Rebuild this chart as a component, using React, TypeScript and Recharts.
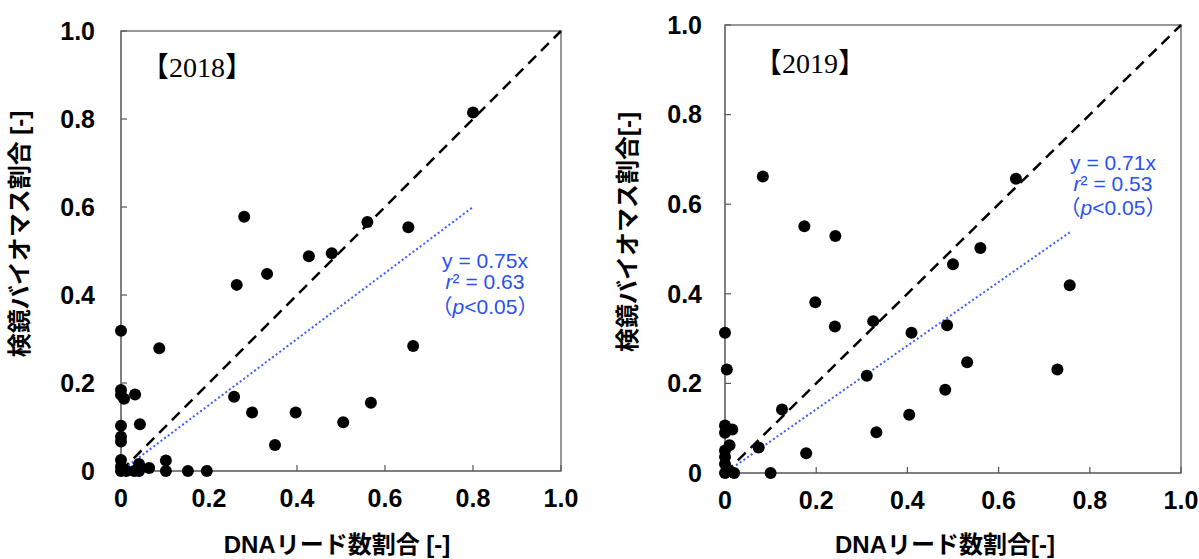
import React from 'react';
import { ScatterChart, Scatter, XAxis, YAxis, ReferenceLine, ReferenceArea } from 'recharts';

const axisTicks = [0, 0.2, 0.4, 0.6, 0.8, 1.0];

const points2018 = [
  { x: 0.8, y: 0.815 }, { x: 0.28, y: 0.578 }, { x: 0.56, y: 0.566 }, { x: 0.653, y: 0.554 },
  { x: 0.427, y: 0.488 }, { x: 0.479, y: 0.495 }, { x: 0.332, y: 0.448 }, { x: 0.263, y: 0.423 },
  { x: 0, y: 0.319 }, { x: 0.087, y: 0.279 }, { x: 0.664, y: 0.284 }, { x: 0, y: 0.184 },
  { x: 0, y: 0.173 }, { x: 0.007, y: 0.164 }, { x: 0.032, y: 0.174 }, { x: 0, y: 0.103 },
  { x: 0.043, y: 0.106 }, { x: 0, y: 0.078 }, { x: 0, y: 0.067 }, { x: 0.257, y: 0.169 },
  { x: 0.298, y: 0.133 }, { x: 0.397, y: 0.133 }, { x: 0.35, y: 0.059 }, { x: 0.505, y: 0.111 },
  { x: 0.568, y: 0.155 }, { x: 0, y: 0.025 }, { x: 0, y: 0.01 }, { x: 0.012, y: 0 },
  { x: 0.03, y: 0 }, { x: 0.041, y: 0.016 }, { x: 0.041, y: 0 }, { x: 0.064, y: 0.007 },
  { x: 0.102, y: 0.024 }, { x: 0.102, y: 0 }, { x: 0.152, y: 0 }, { x: 0.195, y: 0 },
  { x: 0, y: 0 },
];

const points2019 = [
  { x: 0.083, y: 0.662 }, { x: 0.638, y: 0.657 }, { x: 0.174, y: 0.551 }, { x: 0.242, y: 0.529 },
  { x: 0.56, y: 0.502 }, { x: 0.5, y: 0.466 }, { x: 0.756, y: 0.419 }, { x: 0.198, y: 0.381 },
  { x: 0.241, y: 0.327 }, { x: 0.325, y: 0.339 }, { x: 0.409, y: 0.313 }, { x: 0.487, y: 0.33 },
  { x: 0.311, y: 0.217 }, { x: 0.531, y: 0.247 }, { x: 0.729, y: 0.231 }, { x: 0.483, y: 0.186 },
  { x: 0.404, y: 0.13 }, { x: 0.332, y: 0.091 }, { x: 0.125, y: 0.142 }, { x: 0.074, y: 0.057 },
  { x: 0.178, y: 0.044 }, { x: 0.1, y: 0 }, { x: 0, y: 0.313 }, { x: 0.004, y: 0.231 },
  { x: 0, y: 0.106 }, { x: 0.016, y: 0.097 }, { x: 0, y: 0.09 }, { x: 0.01, y: 0.062 },
  { x: 0, y: 0.05 }, { x: 0, y: 0.036 }, { x: 0, y: 0.02 }, { x: 0.005, y: 0.008 },
  { x: 0, y: 0 }, { x: 0.02, y: 0 },
];

// 1:1 line and regression lines (through origin)
const oneToOne = [{ x: 0, y: 0 }, { x: 1, y: 1 }];
const fit2018 = [{ x: 0, y: 0 }, { x: 0.8, y: 0.6 }];
const fit2019 = [{ x: 0, y: 0 }, { x: 0.76, y: 0.54 }];

const SANS = "'Liberation Sans', Arial, 'Noto Sans CJK JP', sans-serif";
const BLUE = '#2b50f0';

const fmt = (v: number) => (v === 0 ? '0' : v.toFixed(1));
const dot = (p: any) => <circle cx={p.cx} cy={p.cy} r={6} fill="#000" />;
const tickStyle = { fill: '#000', fontSize: 25, fontWeight: 700, fontFamily: SANS };

type PanelProps = {
  data: { x: number; y: number }[];
  fit: { x: number; y: number }[];
  width: number;
  margin: { top: number; right: number; bottom: number; left: number };
  yTickMargin: number;
};

const Panel = ({ data, fit, width, margin, yTickMargin }: PanelProps) => (
  <ScatterChart width={width} height={559} margin={margin}>
    <XAxis type="number" dataKey="x" domain={[0, 1]} ticks={axisTicks} tickFormatter={fmt}
      height={40} tickSize={-6} tickMargin={24} tick={tickStyle}
      axisLine={{ stroke: '#777', strokeWidth: 1.5 }} tickLine={{ stroke: '#555', strokeWidth: 1.2 }} />
    <YAxis type="number" dataKey="y" domain={[0, 1]} ticks={axisTicks} tickFormatter={fmt}
      width={60} tickSize={-6} tickMargin={yTickMargin} tick={tickStyle}
      axisLine={{ stroke: '#777', strokeWidth: 1.5 }} tickLine={{ stroke: '#555', strokeWidth: 1.2 }} />
    <ReferenceArea x1={0} x2={1} y1={0} y2={1} fill="none" stroke="#777" strokeWidth={1.5} />
    <ReferenceLine segment={[oneToOne[0], oneToOne[1]]} stroke="#000" strokeWidth={2.5} strokeDasharray="11 7" />
    <ReferenceLine segment={[fit[0], fit[1]]} stroke="#3a5cff" strokeWidth={2} strokeDasharray="2 2.5" />
    <Scatter data={data} shape={dot} isAnimationActive={false} />
  </ScatterChart>
);

const abs = (cx: number, cy: number, extra: React.CSSProperties = {}): React.CSSProperties => ({
  position: 'absolute', left: cx, top: cy, transform: 'translate(-50%, -50%)',
  whiteSpace: 'nowrap', lineHeight: 1, ...extra,
});

const statText: React.CSSProperties = { color: BLUE, fontSize: 21, fontFamily: SANS };

const Stats = ({ cx, ys, slope, r2 }: { cx: number; ys: number[]; slope: string; r2: string }) => (
  <>
    <div style={abs(cx, ys[0], statText)}>y = {slope}x</div>
    <div style={abs(cx, ys[1], statText)}><i>r</i>² = {r2}</div>
    <div style={abs(cx, ys[2], statText)}>（<i>p</i>&lt;0.05）</div>
  </>
);

export default function App() {
  const title: React.CSSProperties = { fontSize: 24, fontWeight: 700, fontFamily: SANS, color: '#000' };
  const year: React.CSSProperties = { fontSize: 28, fontFamily: "'Liberation Serif', 'Noto Sans CJK JP', serif", color: '#000' };
  const rot = 'translate(-50%, -50%) rotate(-90deg)';
  return (
    <div style={{ position: 'absolute', left: 0, top: 0, width: 1199, height: 559, background: '#fff', overflow: 'hidden' }}>
      <div style={{ position: 'absolute', left: 0, top: 0 }}>
        <Panel data={points2018} fit={fit2018} width={600}
          margin={{ top: 31, right: 39, bottom: 48, left: 61 }} yTickMargin={32} />
      </div>
      <div style={{ position: 'absolute', left: 600, top: 0 }}>
        <Panel data={points2019} fit={fit2019} width={599}
          margin={{ top: 25, right: 18, bottom: 46, left: 65 }} yTickMargin={29} />
      </div>

      <div style={abs(197, 68, year)}>【2018】</div>
      <div style={abs(810, 64, year)}>【2019】</div>

      <Stats cx={485} ys={[260, 281, 306]} slope="0.75" r2="0.63" />
      <Stats cx={1113} ys={[162, 183, 207]} slope="0.71" r2="0.53" />

      <div style={abs(337, 545, title)}>DNAリード数割合 [-]</div>
      <div style={abs(945, 545, title)}>DNAリード数割合[-]</div>
      <div style={abs(20, 234, { ...title, transform: rot })}>検鏡バイオマス割合 [-]</div>
      <div style={abs(628, 232, { ...title, transform: rot })}>検鏡バイオマス割合[-]</div>
    </div>
  );
}
